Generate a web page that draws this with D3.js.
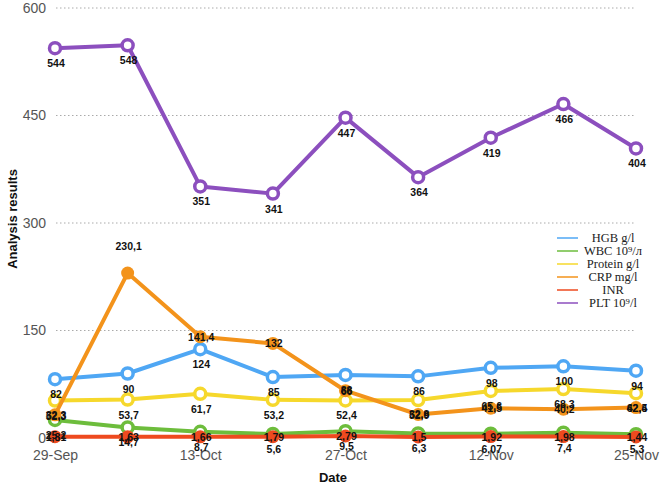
<!DOCTYPE html>
<html><head><meta charset="utf-8">
<script src="https://cdn.jsdelivr.net/npm/d3@7"></script>
<style>body{margin:0;background:#fff}</style>
</head><body>
<svg id="chart" width="660" height="486"></svg>
<script>
const dates = ["29-Sep","6-Oct","13-Oct","20-Oct","27-Oct","4-Nov","12-Nov","19-Nov","25-Nov"];
const tickLabels = ["29-Sep","","13-Oct","","27-Oct","","12-Nov","","25-Nov"];
const yTicks = [0,150,300,450,600];
const hgb = [82,90,124,85,88,86,98,100,94];
const wbc = [25.2,14.7,8.7,5.6,9.5,6.3,6.07,7.4,5.3];
const protein = [52.3,53.7,61.7,53.2,52.4,52.9,65.6,68.3,62.5];
const crp = [32.3,230.1,141.4,132,66,32.8,41.5,40.2,42.4];
const inr = [1.81,1.63,1.66,1.79,2.79,1.5,1.92,1.98,1.44];
const plt = [544,548,351,341,447,364,419,466,404];
const seriesNames = ["HGB g/l","WBC 10⁹/л","Protein g/l","CRP mg/l","INR","PLT 10⁹/l"];
const seriesValues = [hgb,wbc,protein,crp,inr,plt];
const seriesColors = ["#4fa7f4","#6dbd3c","#f6d82c","#f3931b","#ee4a1f","#8c4fbe"];
const seriesFilled = [false,false,false,true,true,false];
const labelBelow = [true,true,true,false,false,true];

const svg = d3.select("#chart");
const x = d3.scalePoint().domain(dates).range([55,636]);
const y = d3.scaleLinear().domain([0,600]).range([438,8]);

// gridlines
svg.append("g").selectAll("line").data(yTicks.filter(d=>d>0)).join("line")
  .attr("x1",56).attr("x2",636).attr("y1",d=>y(d)).attr("y2",d=>y(d))
  .attr("stroke","#aaa").attr("stroke-width",1).attr("stroke-dasharray","1.5,2.5");

// y axis
const yAxis = d3.axisLeft(y).tickValues(yTicks).tickSize(0).tickPadding(10).tickFormat(d3.format("d"));
const gy = svg.append("g").attr("transform","translate(56,0)").call(yAxis);
gy.select(".domain").remove();
gy.selectAll("text").attr("font-family","Liberation Sans, Arial, sans-serif").attr("font-size",14).attr("fill","#555");

// x axis
const xAxis = d3.axisBottom(x).tickSize(0).tickPadding(10).tickFormat((d,i)=>tickLabels[i]);
const gx = svg.append("g").attr("transform","translate(0,440)").call(xAxis);
gx.select(".domain").remove();
gx.selectAll("text").attr("font-family","Liberation Sans, Arial, sans-serif").attr("font-size",14).attr("fill","#555");

// titles
svg.append("text").attr("transform","translate(17,219) rotate(-90)").attr("text-anchor","middle")
  .attr("font-family","Liberation Sans, Arial, sans-serif").attr("font-weight","bold").attr("font-size",13).attr("fill","#111").text("Analysis results");
svg.append("text").attr("x",333).attr("y",482).attr("text-anchor","middle")
  .attr("font-family","Liberation Sans, Arial, sans-serif").attr("font-weight","bold").attr("font-size",13).attr("fill","#111").text("Date");

const line = d3.line().x((d,i)=>x(dates[i])).y(d=>y(d));
const fmt = v => String(v).replace(".",",");

seriesValues.forEach((vals,s)=>{
  const g = svg.append("g");
  g.append("path").datum(vals).attr("d",line).attr("fill","none")
    .attr("stroke",seriesColors[s]).attr("stroke-width",4).attr("stroke-linejoin","round");
  g.selectAll("circle").data(vals).join("circle")
    .attr("cx",(d,i)=>x(dates[i])).attr("cy",d=>y(d)).attr("r",seriesFilled[s]?6.5:5.5)
    .attr("fill",seriesFilled[s]?seriesColors[s]:"#fff")
    .attr("stroke",seriesColors[s]).attr("stroke-width",seriesFilled[s]?0:3.5);
});

// labels
seriesValues.forEach((vals,s)=>{
  const mx = d3.max(vals);
  svg.append("g").selectAll("text").data(vals).join("text")
    .attr("x",(d,i)=>x(dates[i])+1)
    .attr("y",(d,i)=>{
      if(labelBelow[s]) return y(d)+19;
      if(s===3 && d===mx) return y(d)-23;
      return y(d)+4;
    })
    .attr("text-anchor","middle")
    .attr("font-family","Liberation Sans, Arial, sans-serif").attr("font-weight","bold").attr("font-size",10.5).attr("fill","#111")
    .text(d=>fmt(d));
});

// legend
const lg = svg.append("g");
seriesNames.forEach((n,i)=>{
  const yy = 238 + i*13;
  lg.append("line").attr("x1",557).attr("x2",578).attr("y1",yy).attr("y2",yy)
    .attr("stroke",seriesColors[i]).attr("stroke-width",1.5);
  lg.append("text").attr("x",613).attr("y",yy+4).attr("text-anchor","middle")
    .attr("font-family","Liberation Serif, Times New Roman, serif").attr("font-size",12.5).attr("fill","#222").text(n);
});
</script>
</body></html>
